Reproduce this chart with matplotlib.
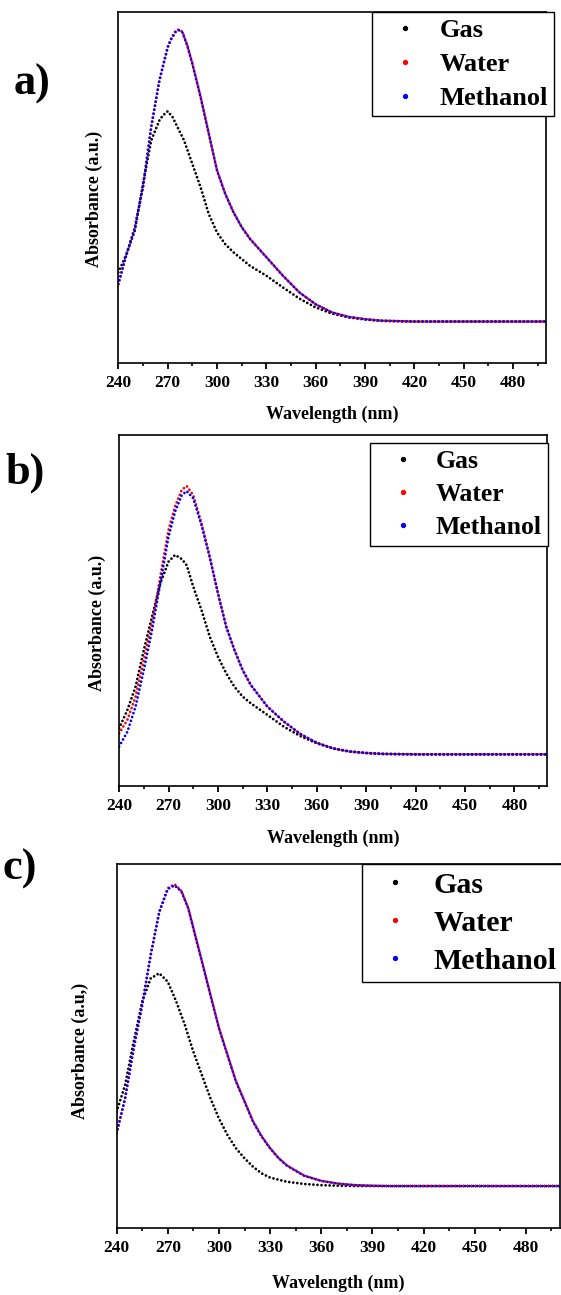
import numpy as np
import matplotlib
matplotlib.use("Agg")
import matplotlib.pyplot as plt
from matplotlib.lines import Line2D

plt.rcParams['font.family'] = ['Liberation Serif', 'DejaVu Serif']
plt.rcParams['font.weight'] = 'bold'

# UV-Vis spectra, absorbance in arbitrary units (baseline = 0, strongest peak = 1)
# panel a
wl_gas_a = [240, 245, 250, 255, 260, 265, 267, 270, 273, 275, 280, 285, 290, 295, 300,
            305, 310, 315, 320, 330, 340, 350, 360, 370, 380, 390, 400, 420, 500]
abs_gas_a = [0.168, 0.231, 0.311, 0.471, 0.62, 0.689, 0.705, 0.72, 0.70, 0.677, 0.62, 0.54,
             0.46, 0.368, 0.305, 0.265, 0.237, 0.214, 0.191, 0.157, 0.117, 0.079, 0.048,
             0.027, 0.014, 0.007, 0.002, 0.0, 0.0]
wl_sol_a = [240, 245, 250, 255, 260, 265, 270, 272, 275, 277, 279, 282, 285, 290, 295, 300,
            305, 310, 315, 320, 330, 340, 350, 360, 370, 380, 390, 400, 420, 500]
abs_water_a = [0.128, 0.231, 0.32, 0.46, 0.666, 0.826, 0.94, 0.968, 0.997, 1.0, 0.992, 0.945,
               0.885, 0.771, 0.645, 0.519, 0.438, 0.375, 0.324, 0.284, 0.221, 0.158, 0.1,
               0.059, 0.031, 0.016, 0.008, 0.003, 0.0, 0.0]
abs_meoh_a = [0.128, 0.231, 0.32, 0.46, 0.666, 0.826, 0.938, 0.965, 0.993, 0.997, 0.99, 0.943,
              0.883, 0.769, 0.643, 0.517, 0.437, 0.374, 0.323, 0.283, 0.22, 0.157, 0.1,
              0.059, 0.031, 0.016, 0.008, 0.003, 0.0, 0.0]

# panel b
wl_b = [240, 245, 250, 255, 260, 265, 270, 274, 278, 281, 285, 290, 295, 300, 305, 310,
        315, 320, 330, 340, 350, 360, 370, 380, 390, 400, 420, 500]
abs_gas_b = [0.097, 0.165, 0.252, 0.389, 0.513, 0.637, 0.718, 0.743, 0.728, 0.705, 0.625,
             0.538, 0.439, 0.364, 0.302, 0.252, 0.215, 0.19, 0.147, 0.103, 0.068, 0.041,
             0.022, 0.011, 0.005, 0.001, 0.0, 0.0]
abs_water_b = [0.078, 0.128, 0.215, 0.352, 0.488, 0.662, 0.836, 0.925, 0.985, 1.0, 0.966,
               0.861, 0.737, 0.6, 0.476, 0.389, 0.314, 0.258, 0.178, 0.122, 0.076, 0.043,
               0.022, 0.01, 0.005, 0.002, 0.0, 0.0]
abs_meoh_b = [0.029, 0.084, 0.178, 0.314, 0.463, 0.637, 0.811, 0.905, 0.965, 0.981, 0.954,
              0.855, 0.735, 0.6, 0.476, 0.389, 0.314, 0.258, 0.178, 0.122, 0.076, 0.043,
              0.022, 0.01, 0.005, 0.002, 0.0, 0.0]

# panel c
wl_gas_c = [240, 245, 250, 255, 260, 265, 270, 275, 280, 285, 290, 295, 300, 305, 310,
            315, 320, 325, 330, 340, 350, 360, 370, 380, 500]
abs_gas_c = [0.246, 0.335, 0.478, 0.611, 0.688, 0.705, 0.677, 0.611, 0.534, 0.445, 0.368,
             0.291, 0.224, 0.169, 0.125, 0.092, 0.064, 0.042, 0.028, 0.014, 0.007, 0.003,
             0.001, 0.0, 0.0]
wl_sol_c = [240, 245, 250, 255, 260, 265, 270, 274, 278, 282, 285, 290, 295, 300, 305, 310,
            315, 320, 325, 330, 335, 340, 350, 360, 370, 380, 390, 400, 500]
abs_water_c = [0.175, 0.291, 0.456, 0.6, 0.766, 0.909, 0.987, 1.0, 0.978, 0.922, 0.856,
               0.746, 0.635, 0.525, 0.436, 0.348, 0.282, 0.215, 0.166, 0.126, 0.093, 0.068,
               0.035, 0.017, 0.008, 0.003, 0.001, 0.0, 0.0]
abs_meoh_c = [0.175, 0.291, 0.456, 0.6, 0.766, 0.907, 0.984, 0.996, 0.976, 0.92, 0.854,
              0.744, 0.633, 0.523, 0.434, 0.346, 0.28, 0.213, 0.164, 0.125, 0.092, 0.067,
              0.034, 0.017, 0.008, 0.003, 0.001, 0.0, 0.0]

labels = ['Gas', 'Water', 'Methanol']
colors = ['black', 'red', 'blue']
xticks = [240, 270, 300, 330, 360, 390, 420, 450, 480]

W, H = 561, 1295
fig = plt.figure(figsize=(W / 100, H / 100), dpi=100)


def px_axes(left, top, right, bottom):
    return fig.add_axes([left / W, 1 - bottom / H, (right - left) / W, (bottom - top) / H])


panels = [
    dict(box=(118.3, 11.7, 546, 362.7), ylim=(-0.141, 1.061), tag='a)', tag_xy=(32, 84),
         series=[(wl_gas_a, abs_gas_a), (wl_sol_a, abs_water_a), (wl_sol_a, abs_meoh_a)],
         ylabel='Absorbance (a.u.)', ylab_x=94, ylab_y=199, xlab_y=414,
         leg=(372, 11.7), leg_fs=19, leg_hl=2.0, leg_tp=0.3, leg_ls=0.4),
    dict(box=(119.1, 435, 547.4, 786), ylim=(-0.118, 1.19), tag='b)', tag_xy=(25, 473),
         series=[(wl_b, abs_gas_b), (wl_b, abs_water_b), (wl_b, abs_meoh_b)],
         ylabel='Absorbance (a.u.)', ylab_x=97, ylab_y=623, xlab_y=838,
         leg=(370.3, 443.3), leg_fs=18.5, leg_hl=2.05, leg_tp=0.25, leg_ls=0.4),
    dict(box=(116.6, 864.3, 560, 1227.7), ylim=(-0.138, 1.066), tag='c)', tag_xy=(20, 869),
         series=[(wl_gas_c, abs_gas_c), (wl_sol_c, abs_water_c), (wl_sol_c, abs_meoh_c)],
         ylabel='Absorbance (a.u,)', ylab_x=80, ylab_y=1051, xlab_y=1283,
         leg=(362.4, 864.3), leg_fs=21.5, leg_hl=1.68, leg_tp=0.46, leg_ls=0.37),
]

for p in panels:
    left, top, right, bottom = p['box']
    ax = px_axes(left, top, right, bottom)
    for (x, y), c in zip(p['series'], colors):
        ax.plot(x, y, color=c, lw=2.0, ls=(0, (0.01, 1.45)), dash_capstyle='round')

    ax.set_xlim(240, 500)
    ax.set_ylim(*p['ylim'])
    ax.set_xticks(xticks)
    ax.set_xticks(np.arange(255, 500, 30), minor=True)
    ax.set_yticks([])
    ax.tick_params(axis='x', which='major', direction='out', length=4, width=1.3,
                   labelsize=12.5, pad=4.5)
    ax.tick_params(axis='x', which='minor', direction='out', length=2.4, width=1.2)
    for s in ax.spines.values():
        s.set_linewidth(1.2)

    ah = bottom - top
    aw = right - left
    ax.set_xlabel('Wavelength (nm)', fontsize=13, fontweight='bold')
    ax.xaxis.set_label_coords(0.5, -(p['xlab_y'] - bottom) / ah)
    ax.xaxis.label.set_verticalalignment('center')
    ax.set_ylabel(p['ylabel'], fontsize=13, fontweight='bold')
    ax.yaxis.set_label_coords(-(left - p['ylab_x']) / aw, (bottom - p['ylab_y']) / ah)
    ax.yaxis.label.set_verticalalignment('center')

    handles = [Line2D([], [], ls='none', marker='o', ms=2.8, color=c) for c in colors]
    lx, ly = p['leg']
    leg = ax.legend(handles, labels, loc='upper left',
                    bbox_to_anchor=(lx / W, 1 - ly / H), bbox_transform=fig.transFigure,
                    borderaxespad=0, borderpad=0.25, handlelength=p['leg_hl'],
                    handletextpad=p['leg_tp'], labelspacing=p['leg_ls'],
                    prop={'size': p['leg_fs'], 'weight': 'bold'},
                    fancybox=False, framealpha=1, edgecolor='black')
    leg.get_frame().set_linewidth(1.0)

    tx, ty = p['tag_xy']
    fig.text(tx / W, 1 - ty / H, p['tag'], fontsize=32, fontweight='bold',
             ha='center', va='center')

fig.savefig('out.png', dpi=100)
